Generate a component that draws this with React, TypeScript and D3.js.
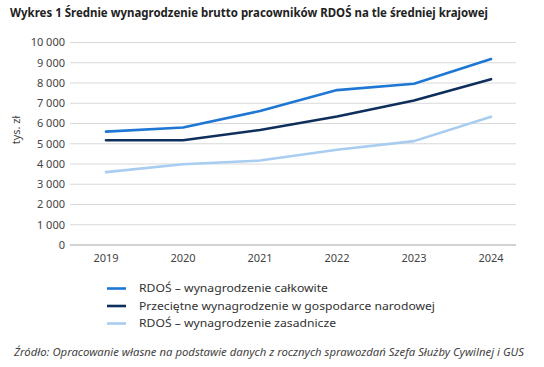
import React from 'react'
import * as d3 from 'd3'

const years = ['2019', '2020', '2021', '2022', '2023', '2024']
const rdosTotal = [5600, 5800, 6620, 7650, 7960, 9180]
const nationalAvg = [5170, 5170, 5680, 6350, 7140, 8190]
const rdosBase = [3600, 3990, 4170, 4700, 5130, 6330]
const yTicks = [0, 1000, 2000, 3000, 4000, 5000, 6000, 7000, 8000, 9000, 10000]

const series = [
  { name: 'RDOŚ – wynagrodzenie całkowite', values: rdosTotal, color: '#1f77d4', len: 189 },
  { name: 'Przeciętne wynagrodzenie w gospodarce narodowej', values: nationalAvg, color: '#0e2f5c', len: 296 },
  { name: 'RDOŚ – wynagrodzenie zasadnicze', values: rdosBase, color: '#a8cdf0', len: 197 },
]

const font = '"Noto Sans", sans-serif'
const fmt = (v: number) => d3.format(',')(v).replace(/,/g, ' ')

export default function App() {
  const x = d3.scalePoint<string>().domain(years).range([106, 491])
  const y = d3.scaleLinear().domain([0, 10000]).range([245, 42.5])
  const line = d3.line<number>()
    .x((d, i) => x(years[i]) as number)
    .y(d => y(d))

  return (
    <svg width={544} height={367} style={{ position: 'absolute', left: 0, top: 0, background: '#fff' }} fontFamily={font}>
      <text x={10} y={17} fontSize={12.5} fontWeight="bold" fill="#222" textLength={478} lengthAdjust="spacingAndGlyphs">
        Wykres 1 Średnie wynagrodzenie brutto pracowników RDOŚ na tle średniej krajowej
      </text>

      {yTicks.map(t => (
        <g key={t}>
          <line x1={70} x2={516} y1={y(t)} y2={y(t)} stroke={t === 0 ? '#a6a6a6' : '#d9d9d9'} strokeWidth={t === 0 ? 1.2 : 1} />
          <text x={65} y={y(t)} dy="0.35em" textAnchor="end" fontSize={11} fill="#444">{fmt(t)}</text>
        </g>
      ))}
      <text transform="translate(20,130) rotate(-90)" textAnchor="middle" fontSize={11} fill="#444">tys. zł</text>

      {years.map(yr => (
        <text key={yr} x={x(yr)} y={262} textAnchor="middle" fontSize={11} fill="#444">{yr}</text>
      ))}

      {series.map(s => (
        <path key={s.name} d={line(s.values) || ''} fill="none" stroke={s.color} strokeWidth={2.6} strokeLinejoin="round" strokeLinecap="round" />
      ))}

      {series.map((s, i) => (
        <g key={s.name} transform={`translate(0,${288.5 + i * 17.5})`}>
          <line x1={107} x2={126} y1={0} y2={0} stroke={s.color} strokeWidth={2.6} />
          <text x={139} y={0} dy="0.35em" fontSize={11} fill="#333" textLength={s.len} lengthAdjust="spacingAndGlyphs">{s.name}</text>
        </g>
      ))}

      <text x={14} y={356} fontSize={10} fontStyle="italic" fill="#444" textLength={510} lengthAdjust="spacingAndGlyphs">
        Źródło: Opracowanie własne na podstawie danych z rocznych sprawozdań Szefa Służby Cywilnej i GUS
      </text>
    </svg>
  )
}
